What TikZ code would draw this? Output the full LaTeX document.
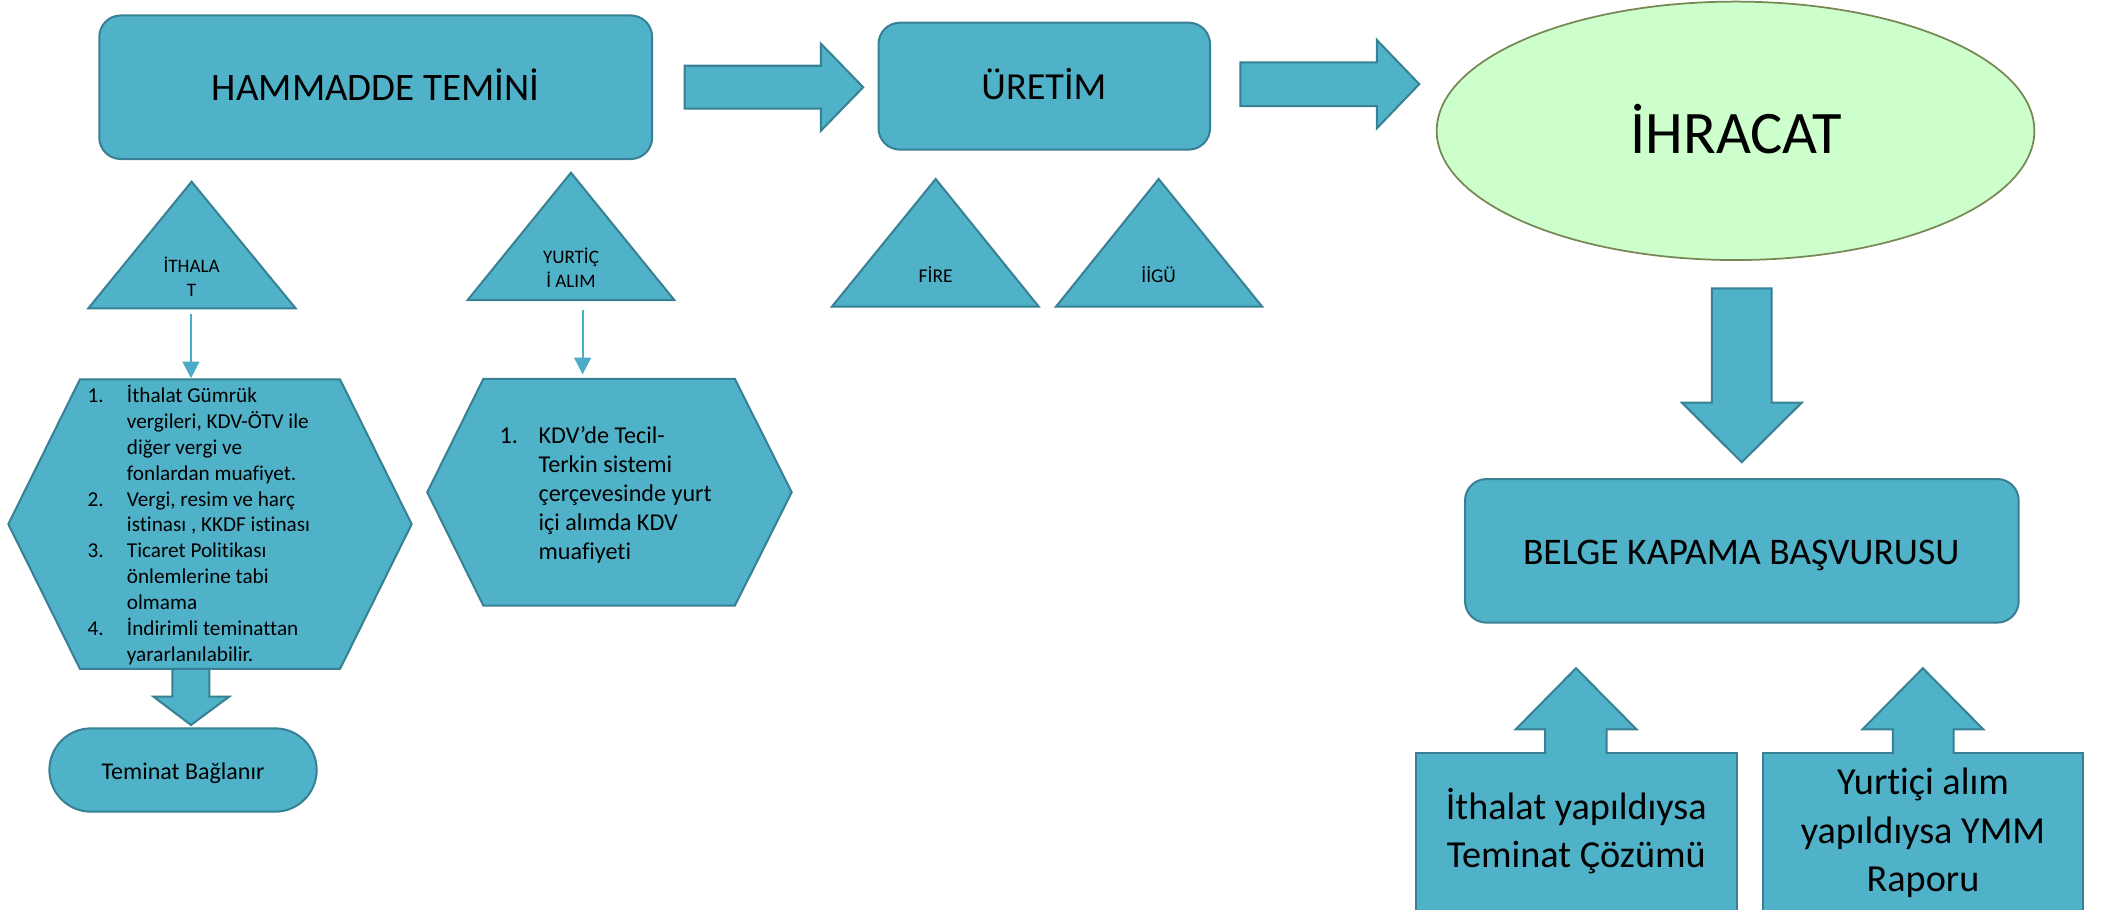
\documentclass[tikz,border=0pt]{standalone}
\usepackage{fontspec}
\setmainfont{Carlito}[Ligatures={NoCommon}]
\usetikzlibrary{arrows.meta}
\definecolor{tealfill}{RGB}{79,178,200}
\definecolor{tealline}{RGB}{56,128,148}
\definecolor{thinarrow}{RGB}{75,172,198}
\definecolor{ellfill}{RGB}{204,255,204}
\definecolor{ellline}{RGB}{119,136,85}
\begin{document}
\begin{tikzpicture}[x=1pt,y=-1pt,
  shapebox/.style={fill=tealfill,draw=tealline,line width=1.5pt,line join=miter},
  roundbox/.style={shapebox,rounded corners=16pt},
  txt/.style={inner sep=0pt,anchor=base,text=black},
  thinconn/.style={draw=thinarrow,line width=1.5pt,-{Triangle[length=12.4pt,width=12.4pt]}}
]
\clip (0,0) rectangle (1568,677.43);
\fill[white] (0,0) rectangle (1568,677.43);

% ---- top row ----
\draw[roundbox] (74,11.5) rectangle (486,118.5);
\node[txt,font=\fontsize{29}{35}\selectfont] (ham) at (280,75) {HAMMADDE TEMİNİ};

\draw[shapebox] (510.2,49) -- (611.7,49) -- (611.7,32.5) -- (643.3,65) -- (611.7,97.5) -- (611.7,81) -- (510.2,81) -- cycle;

\draw[roundbox] (654.7,16.9) rectangle (901.8,111.5);
\node[txt,font=\fontsize{28.5}{34}\selectfont] (ure) at (778,74.5) {ÜRETİM};

\draw[shapebox] (924.3,46.4) -- (1026.1,46.4) -- (1026.1,29.8) -- (1057.7,62.7) -- (1026.1,95.6) -- (1026.1,79) -- (924.3,79) -- cycle;

\draw[fill=ellfill,draw=ellline,line width=1.3pt] (1293.4,97.5) ellipse [x radius=222.7,y radius=96.3];
\node[txt,font=\fontsize{45}{54}\selectfont] (ihr) at (1294,114.3) {İHRACAT};

% ---- triangles ----
\draw[shapebox] (142.8,135.4) -- (220.3,229.8) -- (65.8,229.8) -- cycle;
\node[txt,font=\fontsize{14.2}{17.4}\selectfont] (ithl) at (142.8,203.2) {\begin{tabular}[t]{@{}c@{}}İTHALA\\T\end{tabular}};

\draw[shapebox] (425.5,128.7) -- (502.5,223.6) -- (348.5,223.6) -- cycle;
\node[txt,font=\fontsize{14.2}{17.4}\selectfont] (yurl) at (425.5,196.7) {\begin{tabular}[t]{@{}c@{}}YURTİÇ\\İ ALIM\end{tabular}};

\draw[shapebox] (697.3,133.4) -- (774.1,228.5) -- (620,228.5) -- cycle;
\node[txt,font=\fontsize{14.5}{17.4}\selectfont] (fire) at (697.3,210.6) {FİRE};

\draw[shapebox] (863.5,133.4) -- (940.6,228.5) -- (787,228.5) -- cycle;
\node[txt,font=\fontsize{14.5}{17.4}\selectfont] (iigu) at (863.5,210.6) {İİGÜ};

% ---- thin connectors ----
\coordinate (ithB) at (142.3,234);
\coordinate (hexAT) at (142.3,281.9);
\draw[thinconn] (ithB) -- (hexAT);
\coordinate (yurB) at (434.2,231);
\coordinate (hexBT) at (434.2,279);
\draw[thinconn] (yurB) -- (hexBT);

% ---- hexagons ----
\draw[shapebox] (59.6,282.7) -- (253.4,282.7) -- (306.8,390.6) -- (253.4,498.5) -- (59.6,498.5) -- (6.2,390.6) -- cycle;
\node[inner sep=0pt,anchor=base west,font=\fontsize{15.8}{19.25}\selectfont] (hexAtext) at (65.1,300.2) {\begin{tabular}[t]{@{}l@{}l@{}}
\makebox[29.3pt][l]{1.} & İthalat Gümrük\\
 & vergileri, KDV-ÖTV ile\\
 & diğer vergi ve\\
 & fonlardan muafiyet.\\
\makebox[29.3pt][l]{2.} & Vergi, resim ve harç\\
 & istinası , KKDF istinası\\
\makebox[29.3pt][l]{3.} & Ticaret Politikası\\
 & önlemlerine tabi\\
 & olmama\\
\makebox[29.3pt][l]{4.} & İndirimli teminattan\\
 & yararlanılabilir.
\end{tabular}};

\draw[shapebox] (360.2,282.4) -- (547.7,282.4) -- (590,366.85) -- (547.7,451.3) -- (360.2,451.3) -- (318.4,366.85) -- cycle;
\node[inner sep=0pt,anchor=base west,font=\fontsize{18}{21.6}\selectfont] (hexBtext) at (372.1,330.2) {\begin{tabular}[t]{@{}l@{}l@{}}
\makebox[29.1pt][l]{1.} & KDV’de Tecil-\\
 & Terkin sistemi\\
 & çerçevesinde yurt\\
 & içi alımda KDV\\
 & muafiyeti
\end{tabular}};

% ---- left bottom ----
\draw[shapebox] (128.4,498.5) -- (156,498.5) -- (156,519.1) -- (170.9,519.1) -- (142.3,540.3) -- (114.3,519.1) -- (128.4,519.1) -- cycle;
\draw[shapebox,rounded corners=31pt] (36.8,542.8) rectangle (236,604.9);
\node[txt,font=\fontsize{17.9}{21.5}\selectfont] (tem) at (136.4,580.8) {Teminat Bağlanır};

% ---- right column ----
\draw[shapebox] (1275.8,214.9) -- (1320.3,214.9) -- (1320.3,300) -- (1342.8,300) -- (1298,344.5) -- (1253.4,300) -- (1275.8,300) -- cycle;
\draw[roundbox] (1091.8,357) rectangle (1504.4,464);
\node[txt,font=\fontsize{28}{34}\selectfont] (belge) at (1297.6,421) {BELGE KAPAMA BAŞVURUSU};

\draw[shapebox] (1055,561) rectangle (1294.3,690);
\draw[shapebox] (1313.6,561) rectangle (1552.6,690);
\draw[shapebox] (1151.4,562) -- (1151.4,543.5) -- (1129.6,543.5) -- (1174.5,498) -- (1219.6,543.5) -- (1197.3,543.5) -- (1197.3,562);
\draw[shapebox] (1410.7,562) -- (1410.7,543.5) -- (1388,543.5) -- (1433,498) -- (1478,543.5) -- (1456,543.5) -- (1456,562);
\node[txt,font=\fontsize{28.5}{36}\selectfont] (itp) at (1174.7,610.6) {\begin{tabular}[t]{@{}c@{}}İthalat yapıldıysa\\Teminat Çözümü\end{tabular}};
\node[txt,font=\fontsize{28.5}{36}\selectfont] (yur) at (1433.1,592.4) {\begin{tabular}[t]{@{}c@{}}Yurtiçi alım\\yapıldıysa YMM\\Raporu\end{tabular}};
\end{tikzpicture}
\end{document}
